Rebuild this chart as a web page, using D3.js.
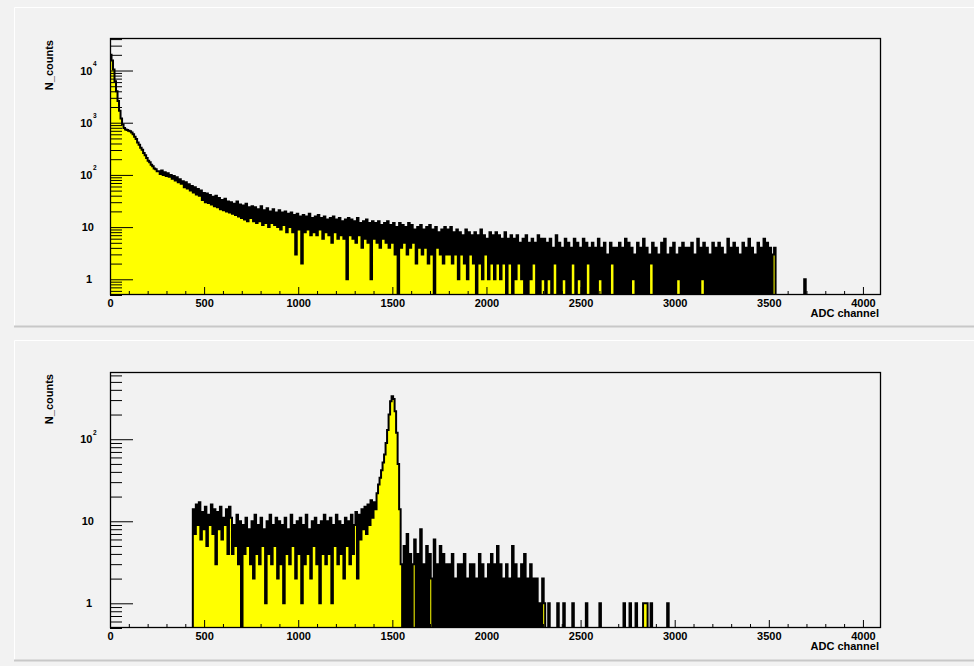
<!DOCTYPE html>
<html><head><meta charset="utf-8">
<script src="https://cdn.jsdelivr.net/npm/d3@7"></script>
<style>
html,body{margin:0;padding:0;background:#f2f2f2;overflow:hidden;}
svg{display:block;}
text{font-family:"Liberation Sans",Arial,Helvetica,sans-serif;font-weight:bold;fill:#000;}
</style></head><body>
<svg id="c" width="974" height="666"></svg>
<script>
// ---------------- data ----------------
const channelsPerBin = 8;
const nChannels = 4096;
const xTickValues = [0, 500, 1000, 1500, 2000, 2500, 3000, 3500, 4000];
const xTitle = "ADC channel";
const yTitle = "N_counts";

// upper spectrum: counts per 8-channel bin, starting at channel 0
const upperCounts = [
  20000,15500,10500,6200,4000,2600,1700,1200, 920,790,745,725,705,690,650,600,
  540,485,420,380,330,305,262,238, 210,186,174,156,147,133,128,117,
  118,104,121,100,112,95,108,92, 100,84,95,78,90,72,83,68,
  76,58,72,55,66,50,61,46, 58,42,54,40,50,33,45,30,
  44,29,41,27,38,25,40,24, 36,22,33,21,35,20,31,19,
  30,18,28,17,31,16,27,15, 26,14,28,13,24,15,25,13,
  24,12,22,13,25,11,21,12, 23,10,20,12,22,11,19,10,
  21,9,19,11,20,8,18,10, 19,8,17,3,18,9,16,2,
  17,8,16,9,18,7,15,8, 16,7,17,9,15,6,16,8,
  14,7,15,5,16,8,14,6, 15,7,13,6,14,1,15,7,
  14,6,13,5,15,7,12,4, 13,6,14,5,12,1,13,6,
  12,5,13,4,11,6,12,5, 13,4,11,5,12,3,10,0,
  12,4,11,5,10,3,12,4, 11,5,9,2,10,4,11,3,
  9,4,10,2,11,3,9,0, 10,4,8,3,9,2,10,3,
  9,3,10,2,8,3,9,1, 8,3,7,2,9,1,8,3,
  7,2,8,0,7,2,9,1, 7,3,6,1,8,2,7,1,
  8,2,7,1,6,2,8,0, 6,2,7,0,6,1,7,2,
  5,1,6,0,7,0,5,1, 6,2,5,0,7,0,6,1,
  6,0,5,1,6,0,4,2, 7,0,5,0,4,1,6,0,
  5,0,4,2,6,0,5,1, 4,0,6,0,5,2,4,0,
  5,0,4,0,6,1,4,0, 5,0,3,0,5,2,4,0,
  4,0,5,0,4,0,6,0, 5,0,4,1,3,0,5,0,
  4,0,6,0,4,0,3,2, 5,0,4,0,3,0,5,0,
  6,0,3,0,4,0,5,0, 3,1,4,0,5,0,4,0,
  4,0,5,0,3,0,6,0, 4,1,5,0,4,0,3,0,
  5,0,4,0,5,0,4,0, 3,0,6,0,4,0,5,0,
  4,0,3,0,5,0,4,0, 6,0,4,0,3,0,5,0,
  4,0,6,0,5,0,4,0, 3,4
];
// isolated single bins of the upper spectrum: [bin, count]
const upperIsolated = [[461, 1]];

// lower spectrum: counts per 8-channel bin, starting at bin 55 (channel 440)
const lowerStartBin = 55;
const lowerCounts = [
  14,7,16,9,17,6,13,8,15,5,12,9,16,7,14,3,13,8,15,6,11,9,14,4,15,
  11,4,9,5,12,3,10,0, 9,4,11,5,8,3,10,2, 12,4,9,3,11,5,8,1, 10,4,12,3,9,5,11,2,
  10,3,9,1,11,4,8,3, 12,5,9,2,10,4,11,1, 9,3,12,4,8,2,10,5, 11,3,9,1,10,4,12,3,
  10,4,11,1,9,5,12,3,10,4,9,2,11,5,10,3,12,4,9,
  13,2,12,6,14,8,15,7,16,9,18,11,17,14,22,
  28,34,42,52,65,90,130,200,290,335,310,220,120,50,14,3,
  0,5,0,7,0,4,0,3,6,0,4,0,8,0,3,0,5,0,4,2,0,6,0,3,0,5,0,4,0,3,0,
  3,0,4,0,2,0,3,0,3,0,4,0,2,0,3,0,3,0,2,0,4,0,3,0,2,0,3,0,4,0,3,
  0,5,0,3,0,2,0,3,0,2,0,5,0,3,0,2,0,3,0,4,0,2,0,3,0,2,0,2,0,1,0,2
];
const lowerIsolated = [[288,1],[291,1],[297,1],[301,1],[307,1],[316,1],[325,1],
  [341,1],[345,1],[349,1],[354,1],[355,1],[356,1],[359,1],[370,1]];

const upperYTicks = [1, 10, 100, 1000, 10000];
const lowerYTicks = [1, 10, 100];

// ---------------- build full bin tables ----------------
const nBins = nChannels / channelsPerBin;
function fullTable(start, vals, iso) {
  const t = new Array(nBins).fill(0);
  vals.forEach((v, i) => { t[start + i] = v; });
  iso.forEach(([b, v]) => { t[b] = v; });
  return t;
}
const upperTable = fullTable(0, upperCounts, upperIsolated);
const lowerTable = fullTable(lowerStartBin, lowerCounts, lowerIsolated);

// ---------------- drawing ----------------
const svg = d3.select("#c");
svg.append("rect").attr("width", 974).attr("height", 666).attr("fill", "#f2f2f2");

function drawPad(pad, frame, table, yDomain, yTicks, id) {
  const g = svg.append("g");
  g.append("rect").attr("x", pad.x).attr("y", pad.y).attr("width", pad.w).attr("height", pad.h)
    .attr("fill", "#f2f2f2");
  g.append("path").attr("d", `M${pad.x + 0.5},${pad.y + pad.h}V${pad.y + 0.5}H${pad.x + pad.w}`)
    .attr("stroke", "#ffffff").attr("fill", "none");
  g.append("path").attr("d", `M${pad.x},${pad.y + pad.h - 0.5}H${pad.x + pad.w}`)
    .attr("stroke", "#c8c8c8").attr("stroke-width", 2).attr("fill", "none");

  const x = d3.scaleLinear().domain([0, nChannels]).range([frame.x0, frame.x1]);
  const y = d3.scaleLog().domain(yDomain).range([frame.y1, frame.y0]);
  const yb = frame.y1;
  const yv = v => v > 0 ? Math.max(frame.y0 - 5, y(v)) : yb + 1;

  const pts = [{c: 0, v: 0}];
  table.forEach((v, i) => pts.push({c: i * channelsPerBin, v}));
  pts.push({c: nChannels, v: table[nBins - 1]});
  pts.push({c: nChannels, v: 0});

  svg.append("clipPath").attr("id", "clip" + id).append("rect")
    .attr("x", frame.x0).attr("y", frame.y0).attr("width", frame.x1 - frame.x0).attr("height", frame.y1 - frame.y0);

  const hg = svg.append("g").attr("clip-path", `url(#clip${id})`);
  const area = d3.area().curve(d3.curveStepAfter).x(d => x(d.c)).y0(yb + 1).y1(d => yv(d.v));
  const line = d3.line().curve(d3.curveStepAfter).x(d => x(d.c)).y(d => yv(d.v));
  hg.append("path").attr("d", area(pts)).attr("fill", "#ffff00").attr("stroke", "none");
  hg.append("path").attr("d", line(pts)).attr("fill", "none").attr("stroke", "#000")
    .attr("stroke-width", 2).attr("stroke-linejoin", "miter");

  // x axis (ticks pointing up into the frame)
  const minorX = d3.range(0, nChannels + 1, 100).filter(v => v % 500 !== 0);
  svg.append("g").attr("transform", `translate(0,${frame.y1})`)
    .call(d3.axisBottom(x).tickValues(minorX).tickSize(-4).tickFormat(""))
    .call(s => s.select(".domain").remove());
  const gx = svg.append("g").attr("transform", `translate(0,${frame.y1})`)
    .call(d3.axisBottom(x).tickValues(xTickValues).tickSize(-8).tickPadding(4).tickFormat(d3.format("d")))
    .call(s => s.select(".domain").remove());
  gx.selectAll("text").attr("font-size", 11).attr("font-family", null);
  svg.selectAll("g.tick line").attr("stroke", "#000");

  // y axis (log) ticks pointing right into the frame
  const minorY = [];
  for (let k = -1; k <= 5; k++) for (let m = 2; m <= 9; m++) {
    const v = m * Math.pow(10, k);
    if (v >= yDomain[0] && v <= yDomain[1]) minorY.push(v);
  }
  svg.append("g").attr("transform", `translate(${frame.x0},0)`)
    .call(d3.axisLeft(y).tickValues(minorY).tickSize(-12).tickFormat(""))
    .call(s => s.select(".domain").remove())
    .selectAll("line").attr("stroke", "#000");
  const gy = svg.append("g").attr("transform", `translate(${frame.x0},0)`)
    .call(d3.axisLeft(y).tickValues(yTicks).tickSize(-23).tickPadding(14).tickFormat(d => d))
    .call(s => s.select(".domain").remove());
  gy.selectAll("line").attr("stroke", "#000");
  gy.selectAll("text").attr("font-size", 11).attr("font-family", null).each(function(d) {
    const t = d3.select(this);
    const e = Math.round(Math.log10(d));
    t.text(null);
    if (e === 0) { t.attr("x", -18).text("1"); }
    else if (e === 1) { t.attr("x", -16).text("10"); }
    else {
      t.attr("x", -13.5);
      t.append("tspan").text("10");
      t.append("tspan").attr("dy", -8.5).attr("dx", 0.5).attr("font-size", 6.5).text(e);
    }
  });

  // frame
  svg.append("rect").attr("x", frame.x0 + 0.5).attr("y", frame.y0 + 0.5)
    .attr("width", frame.x1 - frame.x0 - 1).attr("height", frame.y1 - frame.y0 - 1)
    .attr("fill", "none").attr("stroke", "#000").attr("stroke-width", 1.3);

  // titles
  svg.append("text").attr("x", frame.x1 - 2).attr("y", frame.y1 + 22).attr("text-anchor", "end")
    .attr("font-size", 11).text(xTitle);
  svg.append("text").attr("transform", `translate(53,${frame.y0 + 2}) rotate(-90)`)
    .attr("text-anchor", "end").attr("font-size", 11).text(yTitle);
}

drawPad({x: 14, y: 7, w: 965, h: 320}, {x0: 110, x1: 881, y0: 38, y1: 295},
  upperTable, [0.5, 42000], upperYTicks, "u");
drawPad({x: 14, y: 340, w: 965, h: 321}, {x0: 110, x1: 881, y0: 372, y1: 628},
  lowerTable, [0.5, 660], lowerYTicks, "l");
</script>
</body></html>
